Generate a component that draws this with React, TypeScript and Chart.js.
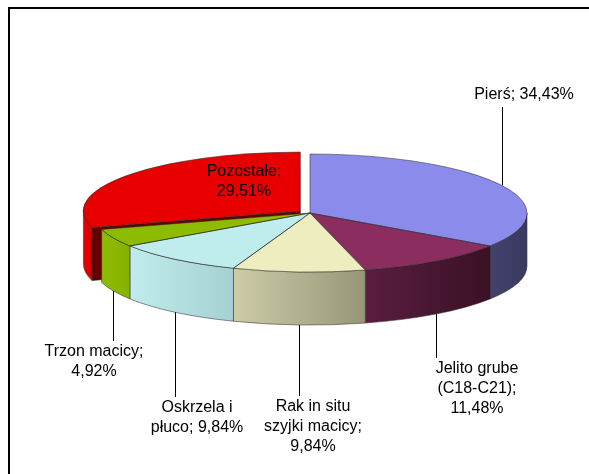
import React, { useEffect, useRef } from "react";
import { Chart, registerables } from "chart.js";

Chart.register(...registerables);

// ---- data ----
const categories = [
  "Pierś",
  "Jelito grube (C18-C21)",
  "Rak in situ szyjki macicy",
  "Oskrzela i płuco",
  "Trzon macicy",
  "Pozostałe",
];
const percentages = [34.43, 11.48, 9.84, 9.84, 4.92, 29.51];

// ---- styles ----
const explodeOffsets = [0, 0, 0, 0, 0, 48]; // Chart.js arc offset (drawn as offset/4 px)
const topColors = ["#8B8BEB", "#8B2D5E", "#EEEDC0", "#BFEDEE", "#8DBB00", "#E80000"];
const wallLeft = ["#42426C", "#5A1D40", "#CDCCA7", "#C0ECEE", "#8EBC00", "#E60000"];
const wallRight = ["#3A3A60", "#3A1125", "#979678", "#A5D1D3", "#86B100", "#D80000"];
const faceColors = ["#2E2E50", "#3A1125", "#A8A788", "#9CC8CA", "#6E9000", "#660000"];

const labelLayout = [
  { x: 524, y: 95, wrap: 200, inside: false },
  { x: 477, y: 369, wrap: 92, inside: false },
  { x: 313, y: 407, wrap: 100, inside: false },
  { x: 197, y: 408, wrap: 100, inside: false },
  { x: 94, y: 352, wrap: 104, inside: false },
  { x: 244, y: 172, wrap: 100, inside: true },
];

const W = 589;
const H = 474;
const CX = 310;
const CY = 213;
const RX = 217;
const RY = 59;
const DEPTH = 53;
const K = RY / RX;
const FONT = "16px 'Liberation Sans', Arial, sans-serif";
const LINE_H = 20;

function fmt(v: number) {
  return v.toFixed(2).replace(".", ",") + "%";
}

function getSlices(chart: any) {
  const meta = chart.getDatasetMeta(0);
  return meta.data.map((arc: any, i: number) => {
    const p = arc.getProps(["x", "y", "startAngle", "endAngle", "outerRadius"], true);
    const off = (arc.options.offset || 0) / 4;
    const mid = (p.startAngle + p.endAngle) / 2;
    const cx = p.x + Math.cos(mid) * off;
    const cy = p.y + Math.sin(mid) * off * K;
    return {
      i,
      cx,
      cy,
      rx: p.outerRadius,
      ry: p.outerRadius * K,
      s: p.startAngle,
      e: p.endAngle,
      mid,
      off,
    };
  });
}

const pie3d = {
  id: "pie3d",
  beforeDatasetsDraw(chart: any) {
    const ctx = chart.ctx as CanvasRenderingContext2D;
    const slices = getSlices(chart);
    ctx.save();
    ctx.lineWidth = 0.8;
    ctx.strokeStyle = "rgba(40,40,40,0.65)";
    // radial faces of exploded slices
    slices.forEach((sl: any) => {
      if (sl.off <= 0) return;
      const faces: number[] = [];
      if (Math.cos(sl.s) < -1e-6) faces.push(sl.s);
      if (Math.cos(sl.e) > 1e-6) faces.push(sl.e);
      faces.forEach((a) => {
        const px = sl.cx + sl.rx * Math.cos(a);
        const py = sl.cy + sl.ry * Math.sin(a);
        ctx.beginPath();
        ctx.moveTo(sl.cx, sl.cy);
        ctx.lineTo(px, py);
        ctx.lineTo(px, py + DEPTH);
        ctx.lineTo(sl.cx, sl.cy + DEPTH);
        ctx.closePath();
        ctx.fillStyle = faceColors[sl.i];
        ctx.fill();
        ctx.stroke();
      });
    });
    // outer walls: exploded first, then the rest
    const order = [...slices].sort((a: any, b: any) => b.off - a.off);
    order.forEach((sl: any) => {
      const a0 = Math.max(sl.s, 0);
      const a1 = Math.min(sl.e, Math.PI);
      if (a1 <= a0) return;
      const xl = sl.cx + sl.rx * Math.cos(a1);
      const xr = sl.cx + sl.rx * Math.cos(a0);
      const g = ctx.createLinearGradient(Math.min(xl, xr), 0, Math.max(xl, xr), 0);
      g.addColorStop(0, wallLeft[sl.i]);
      g.addColorStop(1, wallRight[sl.i]);
      ctx.beginPath();
      ctx.ellipse(sl.cx, sl.cy, sl.rx, sl.ry, 0, a0, a1, false);
      ctx.lineTo(sl.cx + sl.rx * Math.cos(a1), sl.cy + sl.ry * Math.sin(a1) + DEPTH);
      ctx.ellipse(sl.cx, sl.cy + DEPTH, sl.rx, sl.ry, 0, a1, a0, true);
      ctx.closePath();
      ctx.fillStyle = g;
      ctx.fill();
      ctx.stroke();
    });
    ctx.restore();
    // squash the pie tops into an ellipse
    ctx.save();
    const pivot = chart.getDatasetMeta(0).data[0]?.y ?? CY;
    ctx.translate(0, pivot);
    ctx.scale(1, K);
    ctx.translate(0, -pivot);
  },
  afterDatasetsDraw(chart: any) {
    const ctx = chart.ctx as CanvasRenderingContext2D;
    ctx.restore();
    const slices = getSlices(chart);
    ctx.save();
    ctx.lineWidth = 0.8;
    ctx.strokeStyle = "rgba(40,40,40,0.65)";
    slices.forEach((sl: any) => {
      ctx.beginPath();
      ctx.moveTo(sl.cx, sl.cy);
      ctx.ellipse(sl.cx, sl.cy, sl.rx, sl.ry, 0, sl.s, sl.e, false);
      ctx.closePath();
      ctx.stroke();
    });
    ctx.restore();
  },
  afterDraw(chart: any) {
    const ctx = chart.ctx as CanvasRenderingContext2D;
    const slices = getSlices(chart);
    ctx.save();
    ctx.font = FONT;
    ctx.fillStyle = "#000";
    ctx.textAlign = "center";
    ctx.textBaseline = "middle";
    slices.forEach((sl: any) => {
      const lay = labelLayout[sl.i];
      const text = `${categories[sl.i]}; ${fmt(percentages[sl.i])}`;
      const words = text.split(" ");
      const lines: string[] = [];
      let cur = "";
      words.forEach((w) => {
        const t = cur ? cur + " " + w : w;
        if (cur && ctx.measureText(t).width > lay.wrap) {
          lines.push(cur);
          cur = w;
        } else cur = t;
      });
      if (cur) lines.push(cur);
      lines.forEach((ln, j) => ctx.fillText(ln, lay.x, lay.y + j * LINE_H));
      if (!lay.inside) {
        const lx = Math.round(sl.cx + sl.rx * Math.cos(sl.mid)) + 0.5;
        const rimY = sl.cy + sl.ry * Math.sin(sl.mid);
        let y0: number, y1: number;
        if (Math.sin(sl.mid) > 0) {
          y0 = rimY + DEPTH;
          y1 = lay.y - 11;
        } else {
          y0 = rimY;
          y1 = lay.y + (lines.length - 1) * LINE_H + 12;
        }
        ctx.beginPath();
        ctx.moveTo(lx, y0);
        ctx.lineTo(lx, y1);
        ctx.strokeStyle = "#000";
        ctx.lineWidth = 1;
        ctx.stroke();
      }
    });
    // chart-area frame (partially visible)
    ctx.fillStyle = "#000";
    ctx.fillRect(8, 7, 2, H - 7);
    ctx.fillRect(8, 7, W - 8, 2);
    ctx.restore();
  },
};

export default function App() {
  const ref = useRef<HTMLCanvasElement | null>(null);
  useEffect(() => {
    if (!ref.current) return;
    const chart = new Chart(ref.current, {
      type: "pie",
      data: {
        labels: categories,
        datasets: [
          {
            data: percentages,
            backgroundColor: topColors,
            borderWidth: 0,
            offset: explodeOffsets,
            hoverOffset: 0,
            radius: RX,
            clip: false,
          } as any,
        ],
      },
      options: {
        animation: false,
        responsive: false,
        events: [],
        layout: {
          autoPadding: false,
          padding: { left: 2 * (CX - W / 2), right: 0, top: 0, bottom: H - 2 * CY },
        },
        plugins: {
          legend: { display: false },
          tooltip: { enabled: false },
        },
      } as any,
      plugins: [pie3d],
    });
    return () => chart.destroy();
  }, []);
  return (
    <canvas
      ref={ref}
      width={W}
      height={H}
      style={{ position: "fixed", left: 0, top: 0, width: W, height: H, display: "block", background: "#fff" }}
    />
  );
}
